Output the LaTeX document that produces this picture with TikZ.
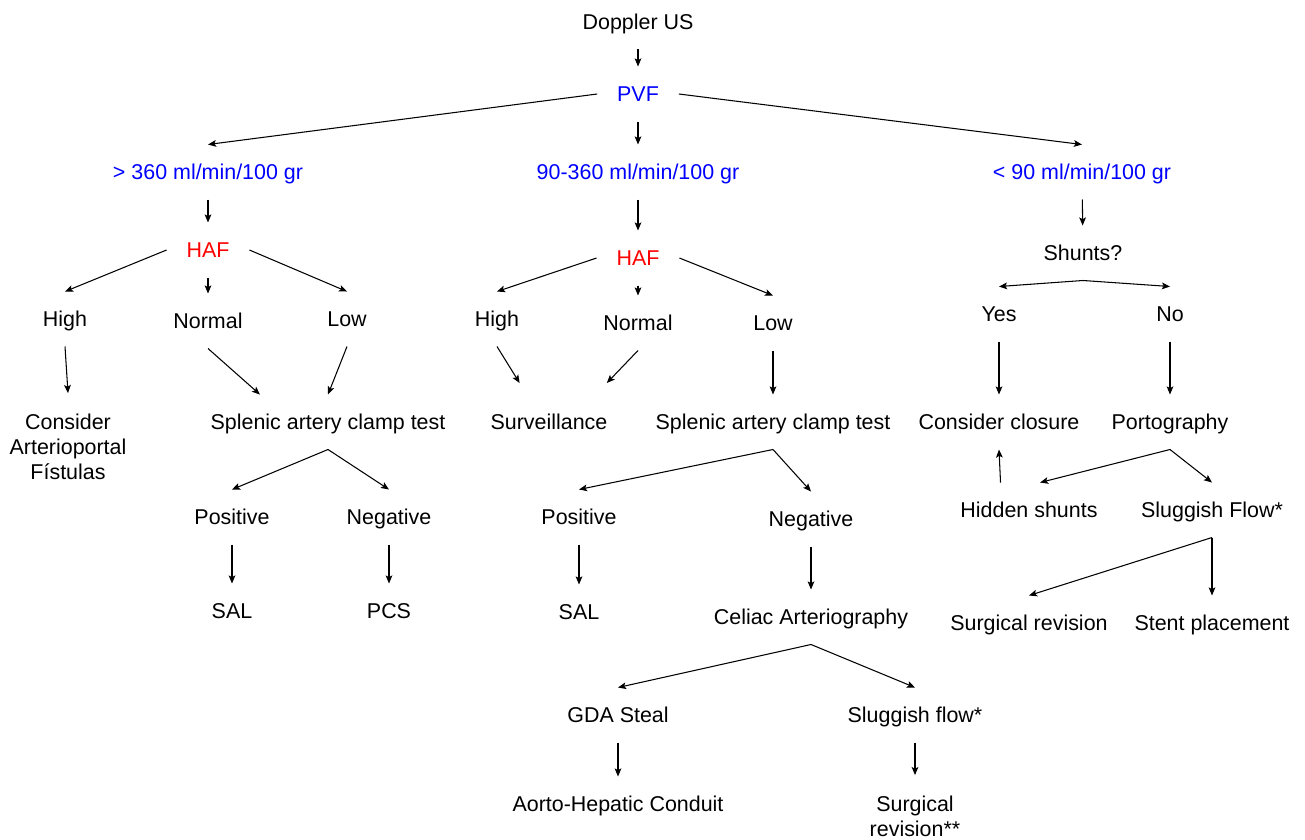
\documentclass[tikz,border=0pt]{standalone}
\usepackage{fontspec}
\setmainfont{Liberation Sans}
\usetikzlibrary{arrows.meta}

\begin{document}
\begin{tikzpicture}[->,>={Stealth[length=4.6pt,width=3.8pt,inset=1pt]},x=0.02cm,y=-0.02cm,line width=0.6pt,font=\fontsize{12.2}{14.2}\selectfont]
\tikzstyle{lab}=[inner sep=0pt,outer xsep=0.4cm,outer ysep=0.38cm,text height=0.32cm,text depth=0.02cm]
\tikzstyle{labm}=[inner sep=0pt,outer xsep=0.4cm,outer ysep=0.38cm]
\tikzstyle{flow}=[lab,text=blue]
\tikzstyle{haf}=[lab,text=red]
\useasboundingbox (0,0) rectangle (1305,839);
% top
\node[lab]	(dop)	at (638,22)	{Doppler US};
\node[flow]	(pvf)	at (638,94)	{PVF};
\node[flow]	(hi)	at (208,172)	{> 360 ml/min/100 gr};
\node[flow]	(mid)	at (638,172)	{90-360 ml/min/100 gr};
\node[flow]	(lo)	at (1082,172)	{< 90 ml/min/100 gr};
\node[haf]	(haf1)	at (208,250)	{HAF};
\node[haf]	(haf2)	at (638,258)	{HAF};
\node[lab]	(shunts)	at (1083,253)	{Shunts?};
\node[lab]	(high1)	at (65,319)	{High};
\node[lab]	(norm1)	at (208,321)	{Normal};
\node[lab]	(low1)	at (347,319)	{Low};
\node[lab]	(high2)	at (497,319)	{High};
\node[lab]	(norm2)	at (638,323)	{Normal};
\node[lab]	(low2)	at (773,323)	{Low};
\node[lab]	(yes)	at (999,314)	{Yes};
\node[lab]	(no)	at (1170,314)	{No};
% middle
\node[labm]	(apf)	at (68,449.5)	{\begin{tabular}{@{}c@{}}
  Consider\\
  Arterioportal\\
  Fístulas\\
 \end{tabular}};
\node[lab]	(clamp1)	at (328,422)	{Splenic artery clamp test};
\node[lab,outer ysep=0.61cm]	(surv)	at (549,422)	{Surveillance};
\node[lab]	(clamp2)	at (773,422)	{Splenic artery clamp test};
\node[lab]	(closure)	at (999,422)	{Consider closure};
\node[lab]	(porto)	at (1170,422)	{Portography};
\node[lab]	(pos1)	at (232,517)	{Positive};
\node[lab]	(neg1)	at (389,517)	{Negative};
\node[lab]	(pos2)	at (579,517)	{Positive};
\node[lab]	(neg2)	at (811,519)	{Negative};
\node[lab]	(hidden)	at (1029,510)	{Hidden shunts};
\node[lab]	(slugf)	at (1212,510)	{Sluggish Flow*};
% bottom
\node[lab]	(sal1)	at (232,611)	{SAL};
\node[lab]	(pcs)	at (389,611)	{PCS};
\node[lab]	(sal2)	at (579,612)	{SAL};
\node[lab]	(celiac)	at (811,617)	{Celiac Arteriography};
\node[lab]	(surgrev)	at (1029,623)	{Surgical revision};
\node[lab]	(stent)	at (1212,623)	{Stent placement};
\node[lab]	(gda)	at (618,715)	{GDA Steal};
\node[lab]	(slug2)	at (915,715)	{Sluggish flow*};
\node[lab]	(aorto)	at (618,804)	{Aorto-Hepatic Conduit};
\node[labm]	(surg2)	at (915,819)	{\begin{tabular}{@{}c@{}}
  Surgical\\
  revision**\\
 \end{tabular}};
\path (dop)	edge	(pvf)
	 (pvf.west)	edge	(hi.north)
	 (pvf)	edge	(mid)
	 (pvf.east)	edge	(lo.north)
	 (hi)	edge	(haf1)
	 (mid)	edge	(haf2)
	 (lo)	edge	(shunts)
	 (haf1.west)	edge	(high1.north)
	 (haf1)	edge	(norm1)
	 (haf1.east)	edge	(low1.north)
	 (haf2.west)	edge	(high2.north)
	 (haf2)	edge	(norm2)
	 (haf2.east)	edge	(low2.north)
	 (shunts.south)	edge	(yes.north)
	 (shunts.south)	edge	(no.north);
\path (high1.south)	edge	(apf.north)
	 (norm1.south)	edge	(clamp1.158)
	 (low1.south)	edge	(clamp1.north)
	 (high2.south)	edge	(surv.127)
	 (norm2.south)	edge	(surv.34)
	 (low2)	edge	(clamp2)
	 (yes)	edge	(closure)
	 (no)	edge	(porto)
	 (hidden.136)	edge	(closure.south);
\path (clamp1.south)	edge	(pos1.north)
	 (clamp1.south)	edge	(neg1.north)
	 (clamp2.south)	edge	(pos2.north)
	 (clamp2.south)	edge	(neg2.north)
	 (porto.south)	edge	(hidden.68)
	 (porto.south)	edge	(slugf.north)
	 (pos1)	edge	(sal1)
	 (neg1)	edge	(pcs)
	 (pos2)	edge	(sal2)
	 (neg2)	edge	(celiac)
	 (slugf.south)	edge	(surgrev.north)
	 (slugf.south)	edge	(stent.north)
	 (celiac.south)	edge	(gda.north)
	 (celiac.south)	edge	(slug2.north)
	 (gda)	edge	(aorto)
	 (slug2)	edge	(surg2);
\end{tikzpicture}
\end{document}
